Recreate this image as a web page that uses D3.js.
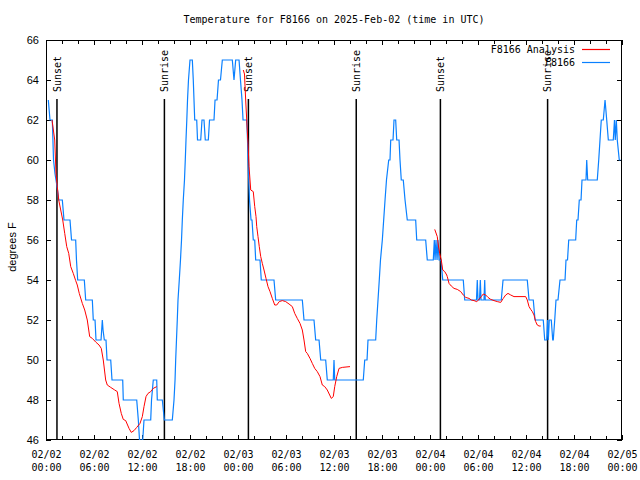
<!DOCTYPE html>
<html><head><meta charset="utf-8">
<script src="https://cdn.jsdelivr.net/npm/d3@7"></script>
<style>
html,body{margin:0;padding:0;background:#fff;}
svg{display:block;}
</style></head>
<body>
<svg id="chart" width="640" height="480"></svg>
<script>
// ---- data (hours since 2025-02-02 00:00 UTC, degrees F) ----
const chartTitle = "Temperature for F8166 on 2025-Feb-02 (time in UTC)";
const yLabel = "degrees F";
const yTicks = [46, 48, 50, 52, 54, 56, 58, 60, 62, 64, 66];
const seriesNames = ["F8166 Analysis", "F8166"];

const obsHours = [0.29,0.5,0.79,0.94,1.13,1.25,1.44,1.59,2.04,2.25,3.0,3.19,3.71,3.81,3.96,4.79,4.96,5.79,5.91,6.13,6.25,6.88,7.04,7.13,7.29,7.5,7.63,8.09,8.25,9.59,9.66,11.34,11.54,11.69,12.09,12.25,13.09,13.19,13.41,13.84,13.91,14.54,14.79,15.79,16.0,16.13,16.21,16.31,16.41,16.5,16.66,16.81,16.94,17.04,17.16,17.31,17.41,17.5,17.6,17.69,17.81,18.0,18.29,18.41,18.5,18.59,18.84,18.94,19.34,19.5,19.75,19.91,20.29,20.44,21.0,21.13,21.38,21.56,21.81,22.04,23.29,23.5,23.71,24.13,24.31,24.5,24.63,25.09,25.19,25.25,25.34,25.44,25.63,25.75,25.91,26.09,26.21,26.75,26.91,28.5,28.71,32.04,32.25,33.5,33.71,34.13,34.34,34.96,35.16,35.91,36.0,36.09,39.66,39.84,40.13,40.25,41.21,41.34,41.5,41.66,41.81,42.04,42.21,42.38,42.56,42.84,43.0,43.09,43.38,43.5,43.71,43.84,44.13,44.25,44.41,44.66,44.88,45.16,46.21,46.34,47.46,47.66,48.41,48.54,48.63,48.75,48.88,49.0,49.13,49.38,49.59,52.16,52.34,53.81,53.91,54.0,54.19,54.29,54.38,54.75,54.84,54.91,56.91,57.13,60.16,60.38,60.91,61.13,62.16,62.34,62.59,62.69,62.79,62.91,63.16,63.34,63.41,63.59,63.75,64.0,64.25,64.88,65.0,65.19,65.34,66.21,66.34,66.5,66.66,66.88,67.0,67.5,67.59,67.71,68.91,69.09,69.25,69.41,69.66,69.88,70.09,70.29,70.91,71.06,71.16,71.29,71.41,71.66,71.81];
const obsTemps = [63,62,62,60,59.3,59,58.5,58,58,57,57,56,56,55,54,54,53,53,52,52,51,51,52,51.5,51,51,50,50,49,49,48,48,47,46,46,47,47,48,49,49,48,48,47,47,48,49,50,51,52,53,54,55,56,57,58,59,60,61,62,63,64,65,65,64,63,62,62,61,61,62,62,61,61,62,62,63,63,64,64,65,65,64,65,65,64,63,62,62,61,60,59,58,57,57,56,56,55,55,54,54,53,53,52,52,51,51,50,50,49,49,50,49,49,50,50,51,51,52,53,54,55,56,57,58,59,60,60,61,61,62,62,61,61,60,59,59,58,57,57,56,56,55,55,56,55,56,55,56,55,55,54,54,53,53,54,53,53,54,53,53,54,53,53,54,54,53,53,52,52,51,51,52,51,52,52,51,51,52,53,53,54,54,55,55,56,56,57,57,58,58,59,59,60,59,59,60,61,62,62,63,62,61,61,62,61,62,61,60,60];

// analysis: three separate runs
const anaHours1 = [0.75,1.09,1.25,1.41,1.59,1.84,2.09,2.34,2.59,2.84,3.09,3.41,3.71,3.91,4.16,4.54,4.84,5.16,5.46,5.79,6.21,6.63,6.91,7.16,7.46,7.66,8.09,8.59,8.91,9.13,9.41,9.66,9.96,10.38,10.66,11.0,11.34,11.75,12.04,12.25,12.5,12.75,13.09,13.41,13.84];
const anaTemps1 = [62,61,59.33,58.67,58,57.5,57,56.33,55.67,55.33,54.67,54.33,53.97,53.75,53.33,52.83,52.5,52,51.17,51.08,50.9,50.75,50.58,50,49,48.75,48.63,48.5,48.42,47.83,47.33,47.03,46.97,46.58,46.38,46.47,46.63,46.83,47.17,47.67,48.17,48.33,48.42,48.58,48.67];
const anaHours2 = [24.66,24.81,24.96,25.09,25.25,25.38,25.5,25.59,25.91,26.09,26.25,26.34,26.5,26.66,26.84,27.04,27.25,27.5,27.75,28.0,28.29,28.59,28.84,29.16,29.54,29.96,30.38,30.79,31.09,31.41,31.75,32.04,32.25,32.46,32.66,33.0,33.29,33.59,33.91,34.25,34.54,34.84,35.16,35.46,35.66,35.91,36.09,36.34,36.63,37.04,38.0];
const anaTemps2 = [64.5,64.3,63,62,60.83,59.67,59,58.5,58.42,57.67,57.17,56.67,56.17,55.67,55.17,54.83,54.5,54.08,53.67,53.42,53.08,52.75,52.75,52.92,52.97,52.92,52.8,52.67,52.33,52.08,51.83,51.5,51,50.42,50.33,50.08,49.83,49.58,49.42,49.17,48.75,48.67,48.5,48.25,48.08,48.17,48.67,49.17,49.58,49.63,49.67];
const anaHours3 = [48.59,48.91,49.04,49.21,49.41,49.59,49.84,50.09,50.16,50.38,50.66,51.0,51.41,51.84,52.16,52.46,52.88,53.16,53.5,53.84,54.13,54.41,54.66,54.96,55.25,55.59,56.0,56.41,56.84,57.16,57.46,57.75,58.09,58.5,59.96,60.16,60.38,60.59,60.79,61.0,61.21,61.41,61.63,61.84];
const anaTemps3 = [56.53,56.17,55.75,55.33,55,54.5,54.42,54.25,54.17,53.83,53.7,53.58,53.53,53.42,53.25,53.13,53.08,53,52.97,52.92,53.03,53.17,53.3,53.25,53.13,53.03,52.97,52.92,52.88,53.08,53.25,53.33,53.25,53.17,53.17,53,52.67,52.53,52.42,52.25,51.92,51.75,51.7,51.7];

const sunLabels = ["Sunset","Sunrise","Sunset","Sunrise","Sunset","Sunrise"];
const sunHours = [1.37,14.8,25.3,38.78,49.3,62.7];

// ---- layout ----
const W = 640, H = 480;
const L = 46, R = 622, T = 40, B = 440;
const t0 = Date.UTC(2025,1,2,0,0);
const toDate = h => new Date(t0 + h*3600e3);

const svg = d3.select("#chart");
const x = d3.scaleUtc().domain([new Date(t0), new Date(Date.UTC(2025,1,5,0,0))]).range([L, R]);
const y = d3.scaleLinear().domain([46, 66]).range([B, T]);

const mono = "'DejaVu Sans Mono', monospace";
const sans = "'Liberation Sans', Arial, sans-serif";

svg.append("rect").attr("width",W).attr("height",H).attr("fill","#fff");

svg.append("clipPath").attr("id","clip").append("rect")
  .attr("x",L).attr("y",T).attr("width",R-L).attr("height",B-T);

// title
svg.append("text").attr("x",(L+R)/2).attr("y",23).attr("text-anchor","middle")
  .style("font-family",mono).style("font-size","10px").text(chartTitle);

// y label
svg.append("text").attr("transform",`translate(12,247) rotate(-90)`).attr("text-anchor","middle")
  .attr("dy","0.36em")
  .style("font-family",sans).style("font-size","11px").text(yLabel);

function styleAxis(g){
  g.select(".domain").remove();
  g.selectAll(".tick line").attr("stroke","#000").attr("stroke-width",1).attr("shape-rendering","crispEdges");
}

const endDate = new Date(Date.UTC(2025,1,5,0,1));
// minor x ticks (every 2h)
const minorTicks = d3.utcHour.every(2).range(new Date(t0), endDate);
svg.append("g").attr("transform",`translate(0,${B})`)
  .call(d3.axisBottom(x).tickValues(minorTicks).tickSize(-4).tickFormat(""))
  .call(styleAxis);
svg.append("g").attr("transform",`translate(0,${T})`)
  .call(d3.axisTop(x).tickValues(minorTicks).tickSize(-4).tickFormat(""))
  .call(styleAxis);

// major x ticks (every 6h) with two-line labels
const majorTicks = d3.utcHour.every(6).range(new Date(t0), endDate);
const fmtDay = d3.utcFormat("%m/%d"), fmtTime = d3.utcFormat("%H:%M");
const gx = svg.append("g").attr("transform",`translate(0,${B})`)
  .call(d3.axisBottom(x).tickValues(majorTicks).tickSize(-5).tickPadding(0).tickFormat(""))
  .call(styleAxis);
gx.selectAll(".tick text").each(function(d){
  const t = d3.select(this);
  t.attr("y",null).attr("dy",null).style("font-family",mono).style("font-size","10px").attr("fill","#000");
  t.append("tspan").attr("x",0).attr("y",17.5).text(fmtDay(d));
  t.append("tspan").attr("x",0).attr("y",30.5).text(fmtTime(d));
});
svg.append("g").attr("transform",`translate(0,${T})`)
  .call(d3.axisTop(x).tickValues(majorTicks).tickSize(-5).tickFormat(""))
  .call(styleAxis);

// y axes
const gy = svg.append("g").attr("transform",`translate(${L},0)`)
  .call(d3.axisLeft(y).tickValues(yTicks).tickSize(-5).tickPadding(7).tickFormat(d3.format("d")))
  .call(styleAxis);
gy.selectAll(".tick text").style("font-family",sans).style("font-size","11px").attr("fill","#000");
svg.append("g").attr("transform",`translate(${R},0)`)
  .call(d3.axisRight(y).tickValues(yTicks).tickSize(-5).tickFormat(""))
  .call(styleAxis);

// frame
svg.append("rect").attr("x",L+0.5).attr("y",T+0.5).attr("width",R-L-1).attr("height",B-T-1)
  .attr("fill","none").attr("stroke","#000").attr("stroke-width",1).attr("shape-rendering","crispEdges");

// sun lines + labels
const sunG = svg.append("g");
sunHours.forEach((h,i)=>{
  const sx = x(toDate(h));
  sunG.append("line").attr("x1",sx).attr("x2",sx).attr("y1",99).attr("y2",B)
    .attr("stroke","#000").attr("stroke-width",1.5);
  sunG.append("text").attr("transform",`translate(${sx},92) rotate(-90)`)
    .attr("text-anchor","start").attr("dy","0.36em")
    .style("font-family",mono).style("font-size","10px").text(sunLabels[i]);
});

const line = d3.line().x(d=>x(toDate(d[0]))).y(d=>y(d[1]));
const plot = svg.append("g").attr("clip-path","url(#clip)");

const obs = obsHours.map((h,i)=>[h,obsTemps[i]]);
const ana = [[anaHours1,anaTemps1],[anaHours2,anaTemps2],[anaHours3,anaTemps3]]
  .map(([hs,ts])=>hs.map((h,i)=>[h,ts[i]]));

const blue = "#0a80ff", red = "#ff0000";
plot.append("path").datum(obs).attr("d",line).attr("fill","none").attr("stroke",blue)
  .attr("stroke-width",1.2).attr("stroke-linejoin","miter");
ana.forEach(seg=>{
  plot.append("path").datum(seg).attr("d",line).attr("fill","none").attr("stroke",red).attr("stroke-width",1);
});

// legend
const lg = svg.append("g");
[[seriesNames[0],red,49.5],[seriesNames[1],blue,62.5]].forEach(([name,col,ly])=>{
  lg.append("text").attr("x",575).attr("y",ly).attr("dy","0.36em").attr("text-anchor","end")
    .style("font-family",mono).style("font-size","10px").text(name);
  lg.append("line").attr("x1",582).attr("x2",610).attr("y1",ly).attr("y2",ly)
    .attr("stroke",col).attr("stroke-width",1.2);
});
</script>
</body></html>
